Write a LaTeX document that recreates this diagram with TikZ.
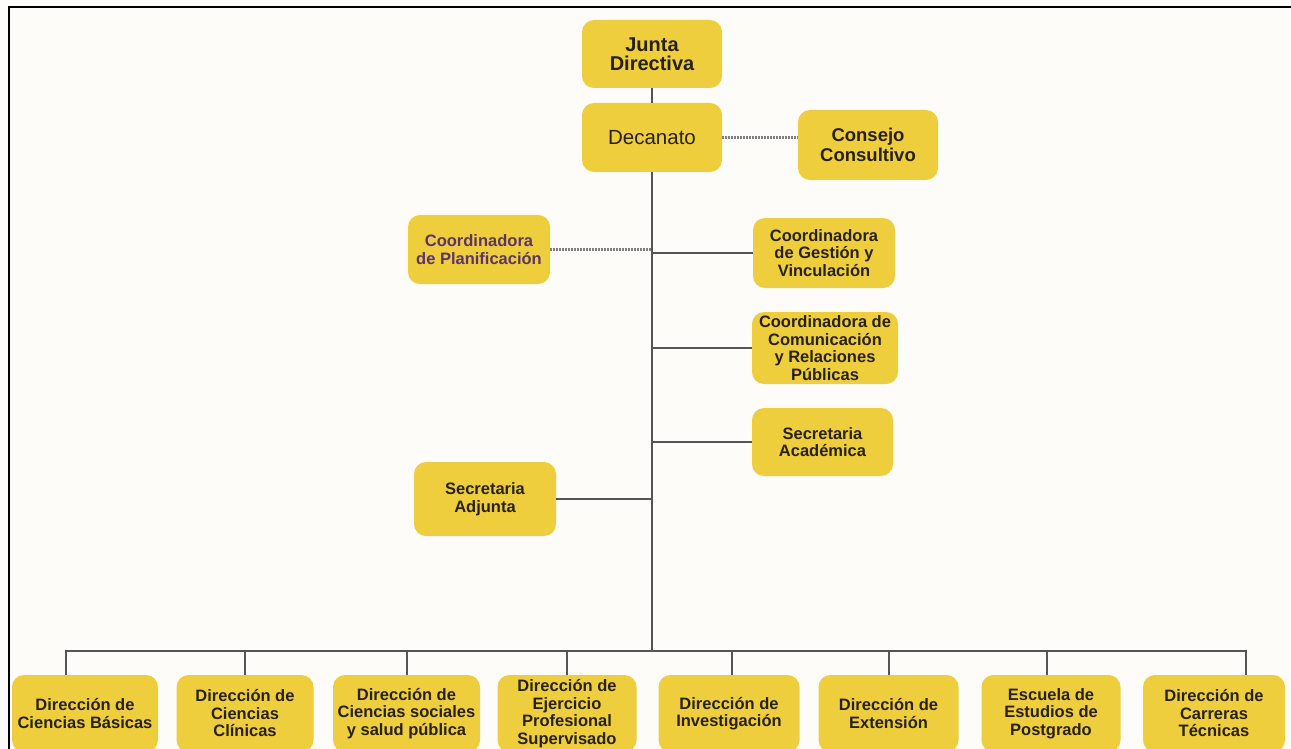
\documentclass[tikz,border=0pt]{standalone}
\usepackage{fontspec}
\setmainfont{Liberation Sans}
\usetikzlibrary{positioning}
\definecolor{paper}{RGB}{253,252,248}
\definecolor{boxfill}{RGB}{238,206,60}
\definecolor{boxtext}{RGB}{40,33,15}
\definecolor{planif}{RGB}{92,52,104}
\definecolor{wire}{RGB}{85,85,85}

\begin{document}
\begin{tikzpicture}[x=1pt,y=-1pt,
  unit/.style={draw=none,fill=boxfill,rounded corners=12pt,inner sep=1pt,align=center,
    text=boxtext,font=\fontsize{16.5}{17.5}\selectfont\bfseries},
  bigunit/.style={unit,font=\fontsize{20}{19.5}\selectfont\bfseries},
  wire/.style={draw=wire,line width=2pt},
  dots/.style={draw=wire!75,line width=2.6pt,dash pattern=on 1.5pt off 1.5pt}]
\fill [paper] (0,0) rectangle (1291,749);
\clip (0,0) rectangle (1291,749);
\draw [black,line width=2.2pt] (9,760) -- (9,7) -- (1300,7);

\node [bigunit,minimum width=140pt,minimum height=68pt] (junta) at (652,54) {Junta\\Directiva};
\node [unit,minimum width=140pt,minimum height=69pt,font=\fontsize{20.5}{22}\selectfont] (decanato) at (652,137.5) {Decanato};
\node [bigunit,minimum width=140pt,minimum height=70pt,font=\fontsize{18.5}{20}\selectfont\bfseries] (consejo) at (868,145) {Consejo\\Consultivo};
\node [unit,minimum width=142pt,minimum height=69pt,text=planif] (planificacion) at (479,249.5) {Coordinadora\\de Planificación};
\node [unit,minimum width=142pt,minimum height=70pt] (gestion) at (824,253) {Coordinadora\\de Gestión y\\Vinculación};
\node [unit,minimum width=146pt,minimum height=72pt] (comunicacion) at (825,348) {Coordinadora de\\Comunicación\\y Relaciones\\Públicas};
\node [unit,minimum width=141pt,minimum height=68pt] (academica) at (822.5,442) {Secretaria\\Académica};
\node [unit,minimum width=142pt,minimum height=74pt] (adjunta) at (485,499) {Secretaria\\Adjunta};

\node [unit,minimum width=146pt,minimum height=77pt] (basicas) at (85,713.5) {Dirección de\\Ciencias Básicas};
\node [unit,minimum width=137pt,minimum height=77pt] (clinicas) at (245,713.5) {Dirección de\\Ciencias\\Clínicas};
\node [unit,minimum width=147pt,minimum height=77pt] (sociales) at (406.5,713.5) {Dirección de\\Ciencias sociales\\y salud pública};
\node [unit,minimum width=139pt,minimum height=77pt] (ejercicio) at (567,713.5) {Dirección de\\Ejercicio\\Profesional\\Supervisado};
\node [unit,minimum width=141pt,minimum height=77pt] (investigacion) at (729,713.5) {Dirección de\\Investigación};
\node [unit,minimum width=140pt,minimum height=77pt] (extension) at (888.5,713.5) {Dirección de\\Extensión};
\node [unit,minimum width=139pt,minimum height=77pt] (postgrado) at (1051,713.5) {Escuela de\\Estudios de\\Postgrado};
\node [unit,minimum width=142pt,minimum height=77pt] (tecnicas) at (1214,713.5) {Dirección de\\Carreras\\Técnicas};

\coordinate (bus) at (652,651);
\draw [wire] (junta) -- (decanato);
\draw [wire] (decanato) -- (bus);
\draw [dots] (decanato.east) -- (decanato.east -| consejo.west);
\draw [dots] (planificacion.east) -- (planificacion.east -| bus);
\draw [wire] (gestion.west) -- (gestion.west -| bus);
\draw [wire] (comunicacion.west) -- (comunicacion.west -| bus);
\draw [wire] (academica.west) -- (academica.west -| bus);
\draw [wire] (adjunta.east) -- (adjunta.east -| bus);
\draw [wire] (basicas.north) ++(-19,0) |- (bus);
\draw [wire] (clinicas.north) |- (bus);
\draw [wire] (sociales.north) |- (bus);
\draw [wire] (ejercicio.north) |- (bus);
\draw [wire] (investigacion.north) ++(3,0) |- (bus);
\draw [wire] (extension.north) |- (bus);
\draw [wire] (postgrado.north) ++(-4,0) |- (bus);
\draw [wire] (tecnicas.north) ++(32,0) |- (bus);
\end{tikzpicture}
\end{document}
